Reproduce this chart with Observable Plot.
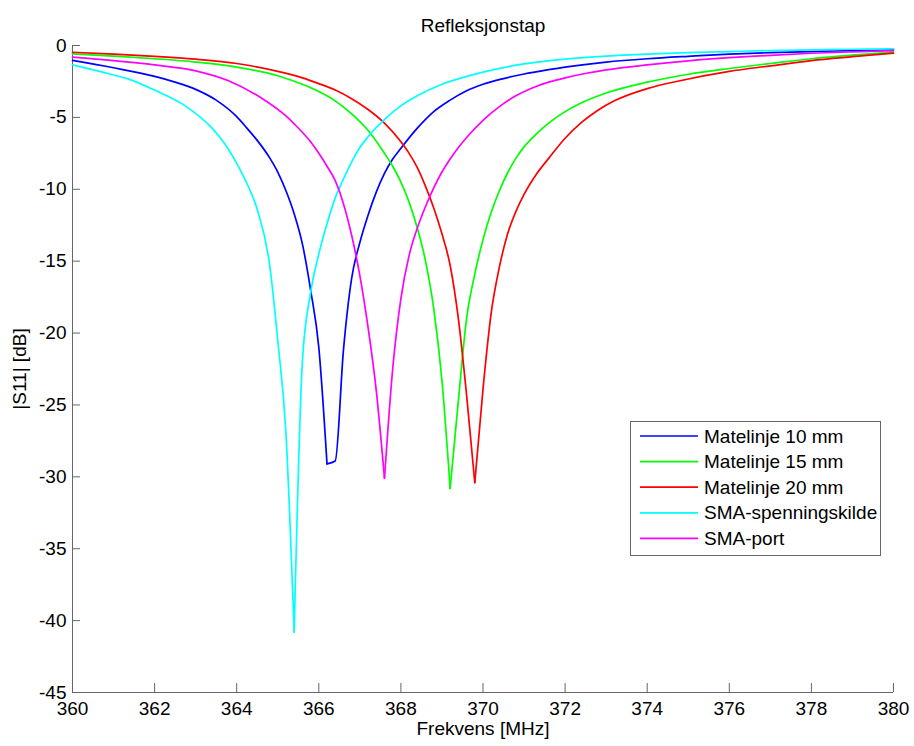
<!DOCTYPE html>
<html><head><meta charset="utf-8">
<script src="https://cdn.jsdelivr.net/npm/d3@7"></script>
<script src="https://cdn.jsdelivr.net/npm/@observablehq/plot@0.6"></script>
<style>body{margin:0;background:#fff}</style>
</head><body><div id="chart"></div>
<script>
const xTicks = [360,362,364,366,368,370,372,374,376,378,380];
const yTicks = [0,-5,-10,-15,-20,-25,-30,-35,-40,-45];
const seriesNames = ["Matelinje 10 mm","Matelinje 15 mm","Matelinje 20 mm","SMA-spenningskilde","SMA-port"];
const seriesColors = ["#0000ff","#00ff00","#ff0000","#00ffff","#ff00ff"];

// [frequency MHz, |S11| dB]
const matelinje10 = [[360,-1.04],[361,-1.55],[362,-2.15],[362.5,-2.55],[363,-3.05],[363.5,-3.8],[364,-4.95],[364.25,-5.75],[364.5,-6.6],[364.8,-7.8],[365,-8.8],[365.2,-10.1],[365.4,-11.7],[365.6,-13.8],[365.8,-17.0],[366,-21.0],[366.2,-29.1],[366.4,-28.9],[366.6,-21.2],[366.8,-16.2],[367,-13.7],[367.2,-11.8],[367.4,-10.2],[367.6,-8.9],[367.8,-7.9],[368,-7.15],[368.4,-5.75],[368.8,-4.6],[369.2,-3.8],[369.6,-3.15],[370,-2.7],[370.5,-2.3],[371,-1.98],[371.6,-1.68],[372,-1.5],[373,-1.15],[374,-0.92],[375,-0.75],[376,-0.6],[377,-0.5],[378,-0.42],[379,-0.35],[380,-0.3]];
const matelinje15 = [[360,-0.58],[361,-0.74],[362,-0.92],[363,-1.15],[364,-1.5],[365,-2.1],[365.6,-2.7],[366,-3.2],[366.4,-3.85],[366.8,-4.75],[367.2,-5.9],[367.6,-7.5],[367.8,-8.4],[368,-9.5],[368.2,-10.9],[368.4,-12.7],[368.6,-15.0],[368.8,-18.3],[369,-23.3],[369.2,-30.8],[369.4,-24.7],[369.6,-19.0],[369.8,-15.9],[370,-13.5],[370.2,-11.6],[370.4,-10.1],[370.6,-8.85],[370.8,-7.85],[371,-7.05],[371.3,-6.15],[371.6,-5.4],[372,-4.6],[372.4,-3.98],[373,-3.3],[374,-2.55],[375,-2.0],[376,-1.6],[377,-1.25],[378,-0.92],[379,-0.67],[380,-0.46]];
const matelinje20 = [[360,-0.47],[361,-0.6],[362,-0.75],[363,-0.95],[364,-1.25],[365,-1.8],[365.6,-2.25],[366,-2.65],[366.4,-3.1],[366.8,-3.7],[367.2,-4.45],[367.6,-5.4],[368,-6.7],[368.2,-7.5],[368.4,-8.5],[368.6,-9.8],[368.8,-11.3],[369,-13.1],[369.2,-15.3],[369.4,-19.0],[369.6,-24.3],[369.8,-30.4],[370,-23.9],[370.2,-18.6],[370.4,-15.4],[370.6,-13.1],[370.8,-11.55],[371,-10.35],[371.3,-8.95],[371.6,-7.85],[372,-6.45],[372.4,-5.35],[372.8,-4.5],[373.2,-3.85],[374,-3.0],[374.8,-2.45],[376,-1.8],[377,-1.42],[378,-1.05],[379,-0.78],[380,-0.53]];
const smaKilde = [[360,-1.35],[361,-2.05],[361.33,-2.3],[362,-3.1],[362.8,-4.3],[363.4,-5.75],[363.7,-6.8],[364,-8.2],[364.25,-9.6],[364.5,-11.4],[364.8,-15.2],[365,-20.5],[365.2,-27.0],[365.4,-40.8],[365.6,-22.0],[365.8,-17.2],[366,-14.5],[366.2,-12.4],[366.4,-10.6],[366.6,-9.3],[366.8,-8.1],[367,-7.1],[367.2,-6.35],[367.4,-5.7],[367.6,-5.15],[368,-4.2],[368.4,-3.5],[369,-2.7],[369.6,-2.15],[370,-1.85],[371,-1.28],[372,-0.95],[373,-0.74],[374,-0.6],[375,-0.5],[376,-0.42],[377,-0.35],[378,-0.3],[379,-0.26],[380,-0.23]];
const smaPort = [[360,-0.81],[361,-1.05],[362,-1.35],[363,-1.76],[363.8,-2.45],[364.6,-3.65],[365.2,-4.9],[365.4,-5.45],[365.8,-6.7],[366,-7.5],[366.2,-8.4],[366.4,-9.4],[366.6,-11.0],[366.8,-13.2],[367,-16.0],[367.2,-19.6],[367.4,-24.0],[367.6,-30.1],[367.8,-22.5],[368,-17.6],[368.2,-14.6],[368.4,-12.7],[368.6,-11.2],[368.8,-9.9],[369,-8.8],[369.2,-7.9],[369.4,-7.1],[369.6,-6.4],[370,-5.2],[370.4,-4.25],[370.8,-3.5],[371.2,-2.95],[371.6,-2.55],[372,-2.25],[373,-1.7],[374,-1.35],[375,-1.07],[376,-0.85],[377,-0.68],[378,-0.54],[379,-0.44],[380,-0.35]];

const seriesData = [matelinje10, matelinje15, matelinje20, smaKilde, smaPort];
// split each series at its minimum so the smooth curve keeps a sharp dip
const rows = [];
seriesData.forEach((s, i) => {
  let m = 0;
  s.forEach((p, j) => { if (p[1] < s[m][1]) m = j; });
  s.forEach(([f, db], j) => {
    if (j <= m) rows.push({f, db, name: seriesNames[i], seg: seriesNames[i] + "-a"});
    if (j >= m) rows.push({f, db, name: seriesNames[i], seg: seriesNames[i] + "-b"});
  });
});

const W = 914, H = 746, mL = 72, mR = 21, mT = 45, mB = 54;
const axisColor = "#666";
const font = "'Liberation Sans', Arial, Helvetica, sans-serif";
const fs = 19;

const chart = Plot.plot({
  width: W, height: H,
  marginLeft: mL, marginRight: mR, marginTop: mT, marginBottom: mB,
  x: {domain: [360, 380]},
  y: {domain: [-45, 0]},
  color: {domain: seriesNames, range: seriesColors},
  style: {fontFamily: font, fontSize: fs + "px", color: "#000", background: "#fff"},
  marks: [
    Plot.ruleY([-45], {stroke: axisColor}),
    Plot.ruleX([360], {stroke: axisColor}),
    Plot.ruleX(xTicks, {stroke: axisColor, insetTop: H - mT - mB - 9}),
    Plot.ruleY(yTicks, {stroke: axisColor, insetRight: W - mL - mR - 8}),
    Plot.axisX({ticks: xTicks, tickSize: 0, tickPadding: 9, tickFormat: d => String(d),
      label: "Frekvens [MHz]", labelAnchor: "center", labelArrow: "none", labelOffset: 42, fontSize: fs}),
    Plot.axisY({ticks: yTicks, tickSize: 0, tickPadding: 6, tickFormat: d => String(d),
      label: "|S11| [dB]", labelAnchor: "center", labelArrow: "none", labelOffset: 60, fontSize: fs}),
    Plot.line(rows, {x: "f", y: "db", z: "seg", stroke: "name", strokeWidth: 1.7, curve: "monotone-x"}),
    Plot.text(["Refleksjonstap"], {text: d => d, frameAnchor: "top", lineAnchor: "middle", dy: -20, fontSize: fs})
  ]
});

document.getElementById("chart").appendChild(chart);

// legend box
const svg = d3.select(chart);
const lg = svg.append("g").attr("font-family", font).attr("font-size", fs).attr("text-anchor", "start");
lg.append("rect").attr("x", 630.5).attr("y", 421.5).attr("width", 250).attr("height", 134)
  .attr("fill", "#fff").attr("stroke", axisColor);
seriesNames.forEach((n, i) => {
  const y = 436 + i * 25.6;
  lg.append("line").attr("x1", 640).attr("x2", 698).attr("y1", y).attr("y2", y)
    .attr("stroke", seriesColors[i]).attr("stroke-width", 1.7);
  lg.append("text").attr("x", 704).attr("y", y).attr("dy", "0.35em").attr("text-anchor", "start")
    .attr("fill", "#000").text(n);
});
</script></body></html>
